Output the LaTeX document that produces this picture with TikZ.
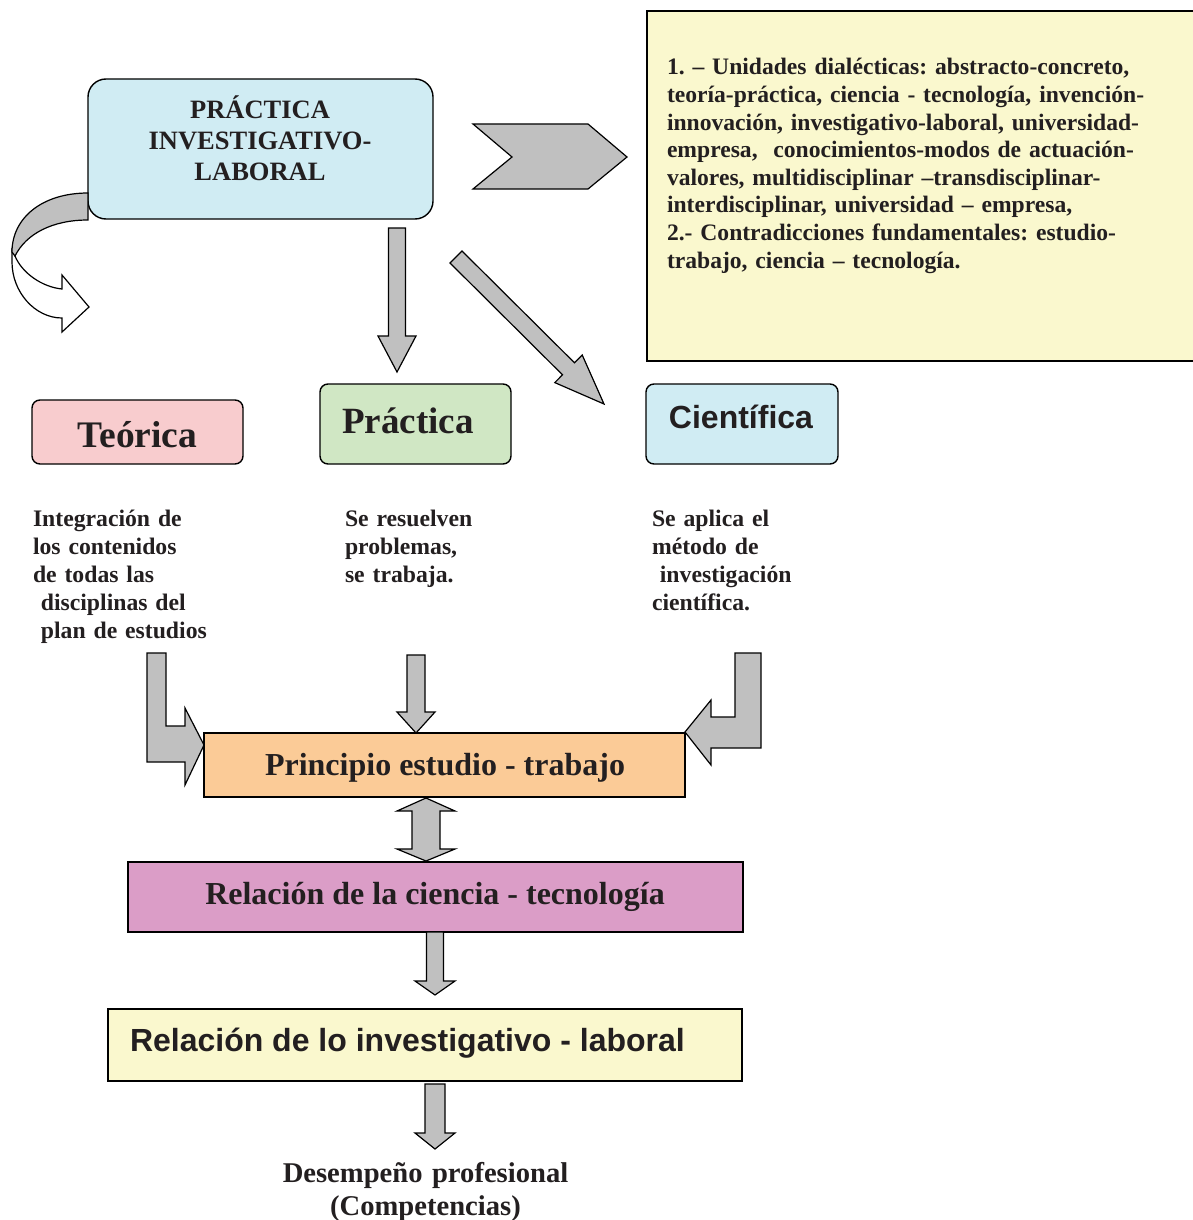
\documentclass[tikz,border=0pt]{standalone}
\usepackage{fontspec}
\setmainfont{Liberation Serif}
\newfontfamily\arialfont{Liberation Sans}
\frenchspacing
\definecolor{ink}{HTML}{231F20}
\definecolor{arrowgray}{HTML}{C0C0C0}
\definecolor{skyfill}{HTML}{D0ECF3}
\definecolor{creamfill}{HTML}{FAF8CE}
\definecolor{pinkfill}{HTML}{F8CCCE}
\definecolor{greenfill}{HTML}{D0E7C4}
\definecolor{orangefill}{HTML}{FBCB97}
\definecolor{mauvefill}{HTML}{DB9DC7}
\begin{document}
\begin{tikzpicture}[x=1pt,y=-1pt,
  box/.style={draw=black,line width=1.4pt,inner sep=0pt,outer sep=0pt,anchor=north west},
  roundbox/.style={box,rounded corners=#1},
  blockarrow/.style={draw=black,line width=1.2pt,fill=arrowgray,line join=miter},
  txt/.style={inner sep=0pt,outer sep=0pt,text=ink},
  serifb/.style={txt,font=\fontsize{#1}{#1}\selectfont\bfseries},
  arialb/.style={txt,font=\fontsize{#1}{#1}\selectfont\arialfont\bfseries},
  para/.style={txt,align=left,anchor=base west}]
\useasboundingbox (0,0) rectangle (1192,1220);

% ---------- boxes ----------
\node[roundbox=18pt,fill=skyfill,minimum width=345pt,minimum height=140pt] (main) at (88,79) {};
\node[box,fill=creamfill,minimum width=550pt,minimum height=350pt] (notes) at (647,11) {};
\node[roundbox=8pt,fill=pinkfill,minimum width=211pt,minimum height=64pt] (teo) at (32,400) {};
\node[roundbox=8pt,fill=greenfill,minimum width=191pt,minimum height=80pt] (pra) at (320,384) {};
\node[roundbox=8pt,fill=skyfill,minimum width=192pt,minimum height=80pt] (cie) at (646,384) {};
\node[box,fill=orangefill,minimum width=481pt,minimum height=64pt] (pri) at (204,733) {};
\node[box,fill=mauvefill,minimum width=615pt,minimum height=70pt] (rct) at (128,862) {};
\node[box,fill=creamfill,minimum width=634pt,minimum height=72pt] (rin) at (108,1009) {};

% ---------- box texts ----------
\node[txt,anchor=base,align=center,text width=340pt,
      font=\fontsize{26.5}{31}\selectfont\bfseries] (mainT) at (260,118.5)
  {PRÁCTICA\\INVESTIGATIVO-\\LABORAL};
\node[para,text width=525pt,font=\fontsize{23.6}{27.6}\selectfont\bfseries] (notesT) at (667,75)
  {1. – Unidades dialécticas: abstracto-concreto,\\
   teoría-práctica, ciencia - tecnología, invención-\\
   innovación, investigativo-laboral, universidad-\\
   empresa,\ \ conocimientos-modos de actuación-\\
   valores, multidisciplinar –transdisciplinar-\\
   interdisciplinar, universidad – empresa,\\
   2.- Contradicciones fundamentales: estudio-\\
   trabajo, ciencia – tecnología.};
\node[serifb=37.5,anchor=base] (teoT) at (137.5,447) {Teórica};
\node[serifb=37,anchor=base] (praT) at (408,433) {Práctica};
\node[arialb=32,anchor=base] (cieT) at (741,428) {Científica};
\node[serifb=32,anchor=base] (priT) at (445,775) {Principio estudio - trabajo};
\node[serifb=32,anchor=base] (rctT) at (435,904) {Relación de la ciencia - tecnología};
\node[arialb=32,anchor=base west] (rinT) at (130,1051) {Relación de lo investigativo - laboral};

% ---------- descriptions ----------
\node[para,text width=230pt,font=\fontsize{23.7}{28}\selectfont\bfseries] (teoD) at (33,526)
  {Integración de\\los contenidos\\de todas las\\\ disciplinas del\\\ plan de estudios};
\node[para,text width=230pt,font=\fontsize{23.7}{28}\selectfont\bfseries] (praD) at (345,526)
  {Se resuelven\\problemas,\\se trabaja.};
\node[para,text width=230pt,font=\fontsize{23.7}{28}\selectfont\bfseries] (cieD) at (652,526)
  {Se aplica el\\método de\\\ investigación\\científica.};
\node[txt,anchor=base,align=center,text width=400pt,
      font=\fontsize{28.6}{33}\selectfont\bfseries] (outT) at (425.5,1182)
  {Desempeño profesional\\(Competencias)};

% ---------- block arrows ----------
% chevron towards the notes
\draw[blockarrow] (473,124) -- (588,124) -- (627,157) -- (588,189) -- (473,189) -- (512,157) -- cycle;
% main -> Práctica
\draw[blockarrow] (388.5,228) -- (405.5,228) -- (405.5,336) -- (416,336) -- (397,372)
  -- (378,336) -- (388.5,336) -- cycle;
% main -> Científica (diagonal)
\draw[blockarrow] (462,251) -- (574.5,362.8) -- (582.2,355) -- (604,404) -- (554.8,382.6)
  -- (562.5,374.8) -- (450,263) -- cycle;
% curved return arrow on the left
\draw[line width=1.2pt,fill=white,line join=miter]
  (12,250) -- (12,262) .. controls (12,292) and (35,318) .. (62,318) -- (62,332) -- (89,307)
  -- (62,275) -- (62,289) .. controls (42,287) and (22,273) .. (15,256) -- cycle;
\draw[blockarrow]
  (88,193) .. controls (42,193) and (12,218) .. (12,252) -- (15,256)
  .. controls (26,234) and (52,220) .. (88,220) -- cycle;
% descriptions -> Principio
\draw[blockarrow] (147,653) -- (166,653) -- (166,726) -- (185,726) -- (185,708) -- (204,745)
  -- (185,785) -- (185,762) -- (147,762) -- cycle;
\draw[blockarrow] (407,655) -- (425,655) -- (425,712) -- (435,712) -- (416,733) -- (397,712)
  -- (407,712) -- cycle;
\draw[blockarrow] (735,653) -- (761,653) -- (761,748) -- (711,748) -- (711,765) -- (685,732)
  -- (711,700) -- (711,717) -- (735,717) -- cycle;
% Principio <-> Relación ciencia
\draw[blockarrow] (426,798) -- (455,811) -- (440,811) -- (440,849) -- (455,849) -- (426,861)
  -- (397,849) -- (412,849) -- (412,811) -- (397,811) -- cycle;
% Relación ciencia -> Relación investigativo
\draw[blockarrow] (426.5,932) -- (443.5,932) -- (443.5,981) -- (455,981) -- (435,995)
  -- (415,981) -- (426.5,981) -- cycle;
% Relación investigativo -> Desempeño
\draw[blockarrow] (425,1084) -- (445,1084) -- (445,1133) -- (455,1133) -- (435,1149)
  -- (415,1133) -- (425,1133) -- cycle;
\end{tikzpicture}
\end{document}
